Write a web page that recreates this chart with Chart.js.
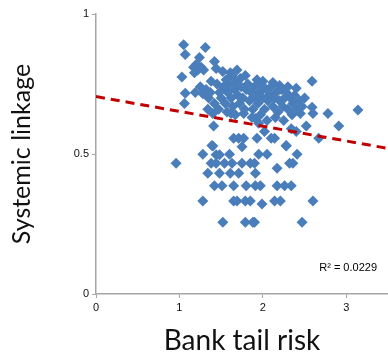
<!DOCTYPE html>
<html>
<head>
<meta charset="utf-8">
<script src="https://cdn.jsdelivr.net/npm/chart.js@4.4.0/dist/chart.umd.min.js"></script>
<style>
  body { margin: 0; background: #fff; }
  canvas { display: block; }
</style>
</head>
<body>
<canvas id="scatter" width="388" height="355"></canvas>
<script>
// bank tail risk (x) vs systemic linkage (y)
var tailRisk = [
  1.05, 1.07, 1.31, 1.24, 1.17, 1.20, 1.22, 1.26, 1.29, 1.18, 1.03, 1.42, 1.44, 1.52, 1.61, 1.69,
  1.38, 1.56, 1.79, 1.93, 2.59, 1.07, 1.19, 1.25, 1.28, 1.06, 1.34, 1.40, 1.41, 1.62, 1.77, 1.91,
  2.59, 2.60, 2.78, 2.91, 3.14, 2.52, 2.34, 2.40, 2.02, 2.10, 2.14, 1.93, 1.65, 1.71, 1.77, 1.75,
  1.39, 2.67, 2.28,
  1.48, 1.50, 1.53, 1.55, 1.58, 1.60, 1.62, 1.64, 1.66, 1.68, 1.70, 1.72, 1.74, 1.76, 1.78, 1.80,
  1.82, 1.84, 1.86, 1.88, 1.90, 1.92, 1.94, 1.96, 1.98, 2.00, 2.02, 2.04, 2.06, 2.08, 2.10, 2.12,
  2.14, 2.16, 2.18, 2.20, 2.22, 2.24, 2.26, 2.28, 2.30, 2.33, 2.36, 2.38, 2.41, 2.44, 2.47, 2.50,
  1.45, 1.47, 1.57, 1.67, 1.87, 1.97, 2.05, 2.15, 2.25, 1.95, 2.35, 2.45, 1.73, 1.63, 2.00, 2.12,
  2.20, 2.30, 2.40, 1.35, 1.32, 1.42, 1.37,
  0.96, 1.28, 1.40, 1.44, 1.48, 1.38, 1.44, 1.54, 1.63, 1.60, 1.75, 1.85, 1.90, 1.95, 2.05, 2.32,
  2.36, 2.41, 2.28, 1.34, 1.48, 1.61, 1.71, 1.91, 2.17, 1.42, 1.51, 1.65, 1.80, 1.91, 1.97, 2.17,
  2.26, 2.34, 1.28, 1.65, 1.69, 1.79, 1.85, 1.99, 2.14, 2.21, 2.60, 1.52, 1.79, 1.88, 1.90, 2.47
];
var linkage = [
  0.89, 0.855, 0.88, 0.845, 0.81, 0.82, 0.80, 0.81, 0.80, 0.79, 0.775, 0.83, 0.805, 0.795, 0.79, 0.80,
  0.76, 0.765, 0.78, 0.765, 0.76, 0.717, 0.72, 0.74, 0.715, 0.68, 0.66, 0.645, 0.60, 0.645, 0.645, 0.627,
  0.667, 0.645, 0.645, 0.60, 0.657, 0.60, 0.59, 0.58, 0.58, 0.556, 0.556, 0.556, 0.556, 0.556, 0.556, 0.526,
  0.53, 0.556, 0.53,
  0.72, 0.70, 0.74, 0.68, 0.72, 0.75, 0.70, 0.67, 0.73, 0.76, 0.71, 0.68, 0.74, 0.70, 0.66, 0.73,
  0.75, 0.69, 0.72, 0.66, 0.74, 0.70, 0.68, 0.72, 0.75, 0.70, 0.66, 0.73, 0.69, 0.71, 0.74, 0.67,
  0.70, 0.72, 0.65, 0.69, 0.73, 0.67, 0.70, 0.72, 0.66, 0.70, 0.68, 0.71, 0.66, 0.69, 0.67, 0.70,
  0.75, 0.66, 0.65, 0.64, 0.63, 0.64, 0.62, 0.63, 0.62, 0.61, 0.64, 0.645, 0.77, 0.78, 0.76, 0.755,
  0.745, 0.74, 0.735, 0.70, 0.73, 0.68, 0.72,
  0.467, 0.499, 0.529, 0.497, 0.497, 0.467, 0.467, 0.467, 0.467, 0.499, 0.467, 0.467, 0.467, 0.499, 0.499, 0.467,
  0.467, 0.499, 0.529, 0.431, 0.431, 0.431, 0.431, 0.431, 0.449, 0.387, 0.387, 0.387, 0.387, 0.387, 0.387, 0.387,
  0.387, 0.387, 0.332, 0.332, 0.332, 0.332, 0.332, 0.321, 0.332, 0.332, 0.332, 0.256, 0.256, 0.256, 0.256, 0.256
];
// linear trend line
var trendX = [0, 3.5];
var trendY = [0.705, 0.52];
var xTicks = [0, 1, 2, 3];
var yTicks = [0, 0.5, 1];
var rSquared = "R\u00b2 = 0.0229";

var points = tailRisk.map(function (x, i) { return { x: x, y: linkage[i] }; });
var trend = trendX.map(function (x, i) { return { x: x, y: trendY[i] }; });

var r2Label = {
    id: 'r2Label',
    afterDatasetsDraw: function (chart) {
        var ctx = chart.ctx;
        var area = chart.chartArea;
        ctx.save();
        ctx.font = '11px "Liberation Sans", Arial, sans-serif';
        ctx.fillStyle = '#000';
        ctx.textAlign = 'right';
        ctx.textBaseline = 'middle';
        ctx.fillText(rSquared, area.right - 11, 268);
        ctx.restore();
    }
};

var axisColor = '#a6a6a6';
var tickFont = { family: '"Liberation Sans", Arial, sans-serif', size: 11 };

new Chart(document.getElementById('scatter'), {
    type: 'scatter',
    data: {
        datasets: [
            {
                type: 'line',
                data: trend,
                borderColor: '#c00000',
                borderWidth: 3,
                borderDash: [9, 6],
                pointRadius: 0,
                fill: false
            },
            {
                data: points,
                pointStyle: 'rectRot',
                pointRadius: 5.5,
                backgroundColor: 'rgb(74,126,187)',
                borderColor: 'rgb(74,126,187)',
                borderWidth: 0
            }
        ]
    },
    options: {
        responsive: false,
        animation: false,
        devicePixelRatio: 1,
        layout: { autoPadding: false, padding: { top: 14, right: 0, left: 0, bottom: 0 } },
        plugins: { legend: { display: false }, tooltip: { enabled: false } },
        scales: {
            x: {
                type: 'linear',
                min: 0,
                max: 3.5,
                afterBuildTicks: function (axis) {
                    axis.ticks = xTicks.map(function (v) { return { value: v }; });
                },
                afterFit: function (axis) { axis.height = 61; },
                grid: { drawOnChartArea: false, drawTicks: true, tickLength: 4, color: axisColor },
                border: { color: axisColor, width: 1.5 },
                ticks: { color: '#111', font: tickFont, padding: 3, maxRotation: 0,
                    callback: function (v) { return String(v); } },
                title: { display: true, text: 'Bank tail risk', color: '#111',
                    font: { family: 'Lato, "DejaVu Sans", sans-serif', size: 28, lineHeight: 1 },
                    padding: { top: 1, bottom: 0 } }
            },
            y: {
                type: 'linear',
                min: 0,
                max: 1,
                afterBuildTicks: function (axis) {
                    axis.ticks = yTicks.map(function (v) { return { value: v }; });
                },
                afterFit: function (axis) { axis.width = 96; },
                grid: { drawOnChartArea: false, drawTicks: true, tickLength: 4, color: axisColor },
                border: { color: axisColor, width: 1.5 },
                ticks: { color: '#111', font: tickFont, padding: 3,
                    callback: function (v) { return String(v); } },
                title: { display: true, text: 'Systemic linkage', color: '#111',
                    font: { family: 'Lato, "DejaVu Sans", sans-serif', size: 25, lineHeight: 1 },
                    padding: { top: 9, bottom: 0 } }
            }
        }
    },
    plugins: [r2Label]
});
</script>
</body>
</html>
